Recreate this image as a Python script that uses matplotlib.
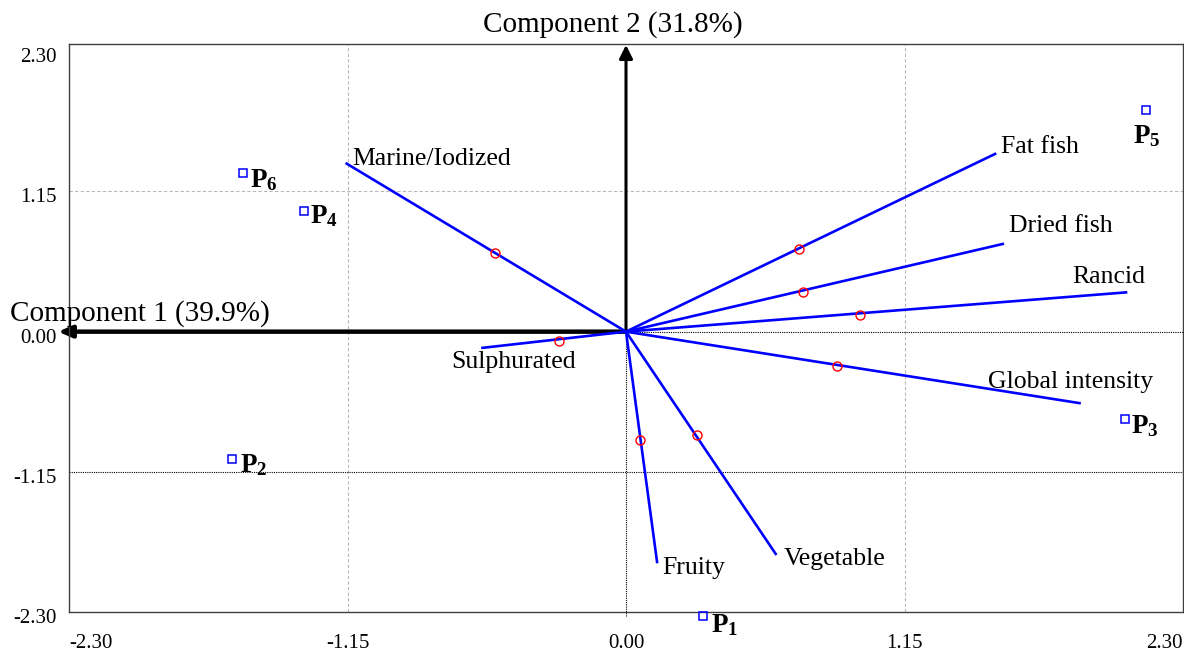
import matplotlib
matplotlib.use('Agg')
import matplotlib.pyplot as plt
import matplotlib.transforms as mtransforms

plt.rcParams['font.family'] = ['Liberation Serif', 'DejaVu Serif']
plt.rcParams['mathtext.fontset'] = 'custom'
plt.rcParams['mathtext.rm'] = 'Liberation Serif'
plt.rcParams['mathtext.bf'] = 'Liberation Serif:bold'

# attribute vectors: loading (red circle) and line end
attributes = ['Marine/Iodized', 'Fat fish', 'Dried fish', 'Rancid',
              'Global intensity', 'Sulphurated', 'Fruity', 'Vegetable']
load_x = [-0.540, 0.713, 0.730, 0.967, 0.873, -0.276, 0.058, 0.293]
load_y = [0.645, 0.676, 0.328, 0.139, -0.282, -0.077, -0.889, -0.850]
end_x = [-1.158, 1.529, 1.561, 2.070, 1.878, -0.598, 0.129, 0.621]
end_y = [1.384, 1.463, 0.722, 0.323, -0.588, -0.134, -1.900, -1.832]

# samples
samples = ['1', '2', '3', '4', '5', '6']
samp_x = [0.316, -1.627, 2.060, -1.331, 2.147, -1.580]
samp_y = [-2.330, -1.047, -0.719, 0.992, 1.821, 1.299]

ticks = [-2.30, -1.15, 0.00, 1.15, 2.30]
tick_labels = ['-2.30', '-1.15', '0.00', '1.15', '2.30']

# label placement (pixel offsets from the line end / marker)
attr_off = [(7, -2), (5, 0), (5, 12), (18, 9), (72, 15), (-30, -20), (5, -11), (7, -10)]
attr_ha = ['left', 'left', 'left', 'right', 'right', 'left', 'left', 'left']
samp_off = [(8, -16), (8, -13), (6, -14), (6, -12), (-13, -33), (7, -14)]

fig = plt.figure(figsize=(11.84, 6.54), dpi=100)
ax = fig.add_axes([69/1184, 1-612/654, (1183-69)/1184, (612-44)/654])
ax.set_xlim(-2.30, 2.30)
ax.set_ylim(-2.30, 2.36)

ax.set_xticks(ticks)
ax.set_xticklabels(tick_labels, fontsize=15)
ax.set_yticks(ticks)
ax.set_yticklabels(tick_labels, fontsize=15)
ax.tick_params(length=0)
ax.tick_params(axis='x', pad=16)
ax.tick_params(axis='y', pad=9)
xl = ax.get_xticklabels()
xl[0].set_ha('left')
xl[-1].set_ha('right')
shift = mtransforms.ScaledTranslation(0, -4/100, fig.dpi_scale_trans)
for lab in ax.get_yticklabels():
    lab.set_transform(lab.get_transform() + shift)
for s in ax.spines.values():
    s.set_color('#404040')
    s.set_linewidth(1)

# grid
for v in [-1.15, 1.15]:
    ax.axvline(v, color='#b8b8b8', lw=0.8, ls=(0, (3, 2)), zorder=1)
ax.axhline(1.15, color='#b8b8b8', lw=0.8, ls=(0, (3, 2)), zorder=1)
ax.axhline(-1.15, color='black', lw=0.8, ls=(0, (1, 1)), zorder=1)
ax.plot([0, 2.30], [0, 0], color='black', lw=0.8, ls=(0, (1, 1)), zorder=1)
ax.plot([0, 0], [-2.33, 0], color='black', lw=0.8, ls=(0, (1, 1)), zorder=1, clip_on=False)

# component axes
ax.annotate('', xy=(-2.345, 0), xytext=(0, 0), annotation_clip=False,
            arrowprops=dict(arrowstyle='-|>,head_length=0.8,head_width=0.35',
                            lw=3.2, color='black', shrinkA=0, shrinkB=0), zorder=2)
ax.annotate('', xy=(0, 2.352), xytext=(0, 0), annotation_clip=False,
            arrowprops=dict(arrowstyle='-|>,head_length=0.8,head_width=0.4',
                            lw=2.2, color='black', shrinkA=0, shrinkB=0), zorder=2)
fig.text(10/1184, 1-321/654, 'Component 1 (39.9%)', fontsize=21, ha='left', va='baseline')
fig.text(613/1184, 1-32/654, 'Component 2 (31.8%)', fontsize=21, ha='center', va='baseline')

# attribute vectors
for i, name in enumerate(attributes):
    ax.plot([0, end_x[i]], [0, end_y[i]], color='#0000ff', lw=1.9, zorder=3,
            solid_capstyle='butt')
    ax.annotate(name, xy=(end_x[i], end_y[i]), xytext=attr_off[i],
                textcoords='offset pixels', ha=attr_ha[i], va='baseline',
                fontsize=18.5, zorder=5)
ax.plot(load_x, load_y, ls='none', marker='o', ms=6.5, mfc='none', mec='red',
        mew=1, zorder=4)

# samples
ax.plot(samp_x, samp_y, ls='none', marker='s', ms=5.5, mfc='none', mec='#0000ff',
        mew=1.1, zorder=4, clip_on=False)
for i, s in enumerate(samples):
    ax.annotate(r'$\mathbf{P_{%s}}$' % s, xy=(samp_x[i], samp_y[i]), xytext=samp_off[i],
                textcoords='offset pixels', ha='left', va='baseline',
                fontsize=19.5, annotation_clip=False, zorder=5)

fig.savefig('out.png', dpi=100)
